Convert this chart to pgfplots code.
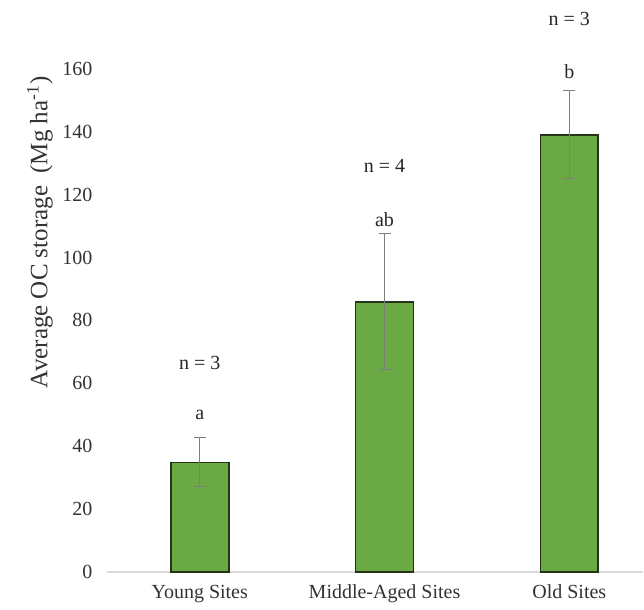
\documentclass[border=0pt]{standalone}
\usepackage{pgfplots}
\pgfplotsset{compat=1.18}
\usepackage{fontspec}
\setmainfont{Liberation Serif}
\definecolor{barfill}{HTML}{6AA943}
\definecolor{bardraw}{HTML}{24331A}
\definecolor{errc}{HTML}{7F7F7F}
\definecolor{axc}{HTML}{D9D9D9}
\begin{document}
\begin{tikzpicture}
\begin{axis}[
  scale only axis, width=268pt, height=251.5pt,
  xmin=-0.5, xmax=2.4, ymin=0, ymax=160,
  ytick={0,20,...,160},
  xtick={0,1,2}, xticklabels={Young Sites, Middle-Aged Sites, Old Sites},
  axis x line*=bottom, axis y line*=left,
  x axis line style={draw=axc, line width=0.8pt},
  y axis line style={draw=none},
  major tick length=0pt,
  tick label style={font=\fontsize{10}{12}\selectfont, text=black!80},
  yticklabel style={xshift=-4pt},
  xticklabel style={yshift=-3pt},
  /pgf/number format/assume math mode=true,
  every axis y label/.style={at={(rel axis cs:-0.126,0.675)}, rotate=90, anchor=center, font=\fontsize{12.5}{14}\selectfont, text=black!80},
  ylabel={Average OC storage\ \ (Mg ha\textsuperscript{-1})},
  clip=false,
]
\addplot[ybar, bar width=29pt, fill=barfill, draw=bardraw, line width=0.8pt,
  error bars/.cd, y dir=both, y explicit,
  error bar style={draw=errc, line width=0.6pt},
  error mark options={rotate=90, mark size=3pt, draw=errc, line width=0.6pt}]
  coordinates {(0,34.8) +- (0,7.8) (1,85.9) +- (0,21.6) (2,139) +- (0,14)};
\begin{scope}[every node/.style={font=\fontsize{10}{12}\selectfont, text=black!85}]
\node at (axis cs:0,50) {a};
\node at (axis cs:0,66.5) {n = 3};
\node at (axis cs:1,112) {ab};
\node at (axis cs:1,129) {n = 4};
\node at (axis cs:2,159) {b};
\node at (axis cs:2,176) {n = 3};
\end{scope}
\path (rel axis cs:-0.2004,-0.0736) rectangle (rel axis cs:1,1.137);
\end{axis}
\end{tikzpicture}
\end{document}
